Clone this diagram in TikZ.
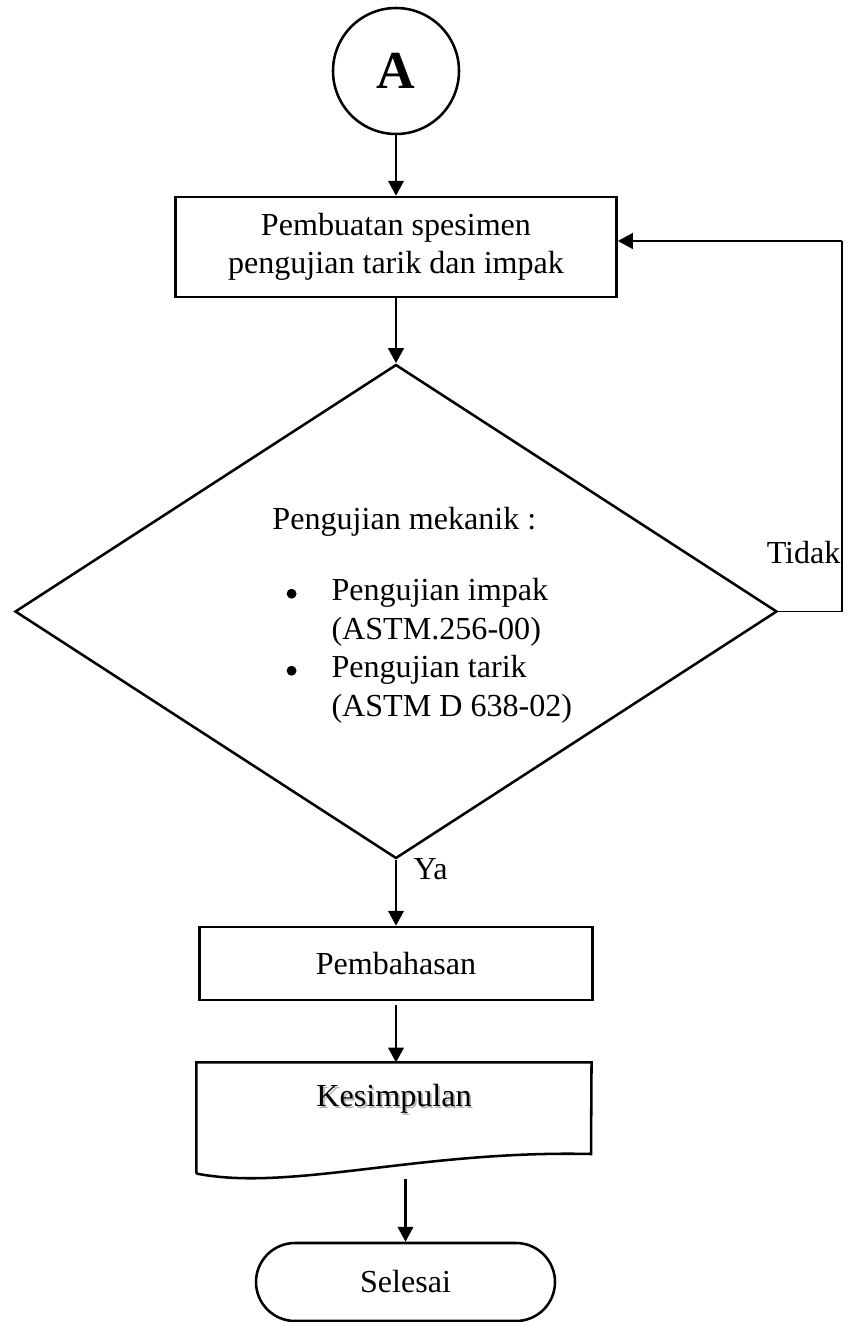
\documentclass[tikz,border=0pt]{standalone}
\usepackage{fontspec}
\setmainfont{Liberation Serif}
\usetikzlibrary{shapes.geometric,shapes.misc,arrows.meta}

\tikzset{
  garis/.style={line width=0.95pt},
  tipis/.style={line width=0.5pt},
  panah/.style={garis,-{Triangle[length=5.6pt,width=5.8pt]}},
  teks/.style={font=\fontsize{12}{14.4}\selectfont},
  konektor/.style={circle,draw,garis,inner sep=0pt,minimum size={126*0.374pt},font=\fontsize{20}{24}\selectfont\bfseries},
  proses/.style={rectangle,draw,garis,inner sep=0pt,align=center,teks},
  keputusan/.style={diamond,draw,garis,inner sep=0pt,minimum width={762*0.374pt},minimum height={494*0.374pt}},
  terminal/.style={rounded rectangle,draw,garis,inner sep=0pt,minimum width={299*0.374pt},minimum height={78*0.374pt},teks}
}
\newcommand{\butir}{\makebox[22.1pt][l]{\hspace{5.3pt}\tikz[baseline=-2.7pt]\fill (0,0) circle (1.85pt);}}

\begin{document}
\begin{tikzpicture}[x=0.374pt,y=-0.374pt]
    \useasboundingbox (0,0) rectangle (849,1322);

    \node[konektor] (A) at (396,71) {A};
    \node[proses,minimum width={441*0.374pt},minimum height={100*0.374pt}] (buat) at (396,247) {Pembuatan spesimen\\pengujian tarik dan impak};
    \node[keputusan] (uji) at (396,611.5) {};
    \node[teks,align=left,anchor=west] (ujitxt) at (263,615) {Pengujian mekanik :\\[12.5pt]
      \butir Pengujian impak\\
      \hspace*{22.1pt}(ASTM.256-00)\\
      \butir Pengujian tarik\\
      \hspace*{22.1pt}(ASTM D 638-02)};
    \node[proses,minimum width={393*0.374pt},minimum height={73*0.374pt}] (bahas) at (396,963.5) {Pembahasan};
    % kotak dokumen, garis bawah digambar sendiri
    \node[minimum width={394*0.374pt},minimum height={110*0.374pt},inner sep=0pt] (kes) at (394,1118) {};
    \node[teks] (kestxt) at (394,1100) {\makebox[0pt][l]{\raisebox{-0.7pt}{\hspace{0.7pt}\color{black!30}Kesimpulan}}Kesimpulan};
    \node[terminal] (sel) at (405.5,1282) {Selesai};

    \draw[garis] (kes.south west) -- (kes.north west) -- (kes.north east) -- (591,1154)
        .. controls (420,1150) and (290,1192) .. (kes.south west);

    \coordinate (balik) at (842,241);
    \draw[panah] (A) -- (buat);
    \draw[panah] (buat) -- (uji);
    \draw[panah] (uji.south) -- (bahas.north);
    \draw[panah,shorten <=1.5pt] (bahas.south) -- (bahas.south |- kes.north);
    \draw[panah,shorten <=2pt] (sel.north |- kes.south) -- (sel.north);
    \draw[tipis] (uji.east) -| (balik);
    \draw[panah] (balik) -- (buat.east |- balik);

    \node[teks,anchor=base east,inner sep=0pt] (tidak) at (841,563) {Tidak};
    \node[teks,anchor=base west,inner sep=0pt] (ya) at (413,879) {Ya};
\end{tikzpicture}
\end{document}
